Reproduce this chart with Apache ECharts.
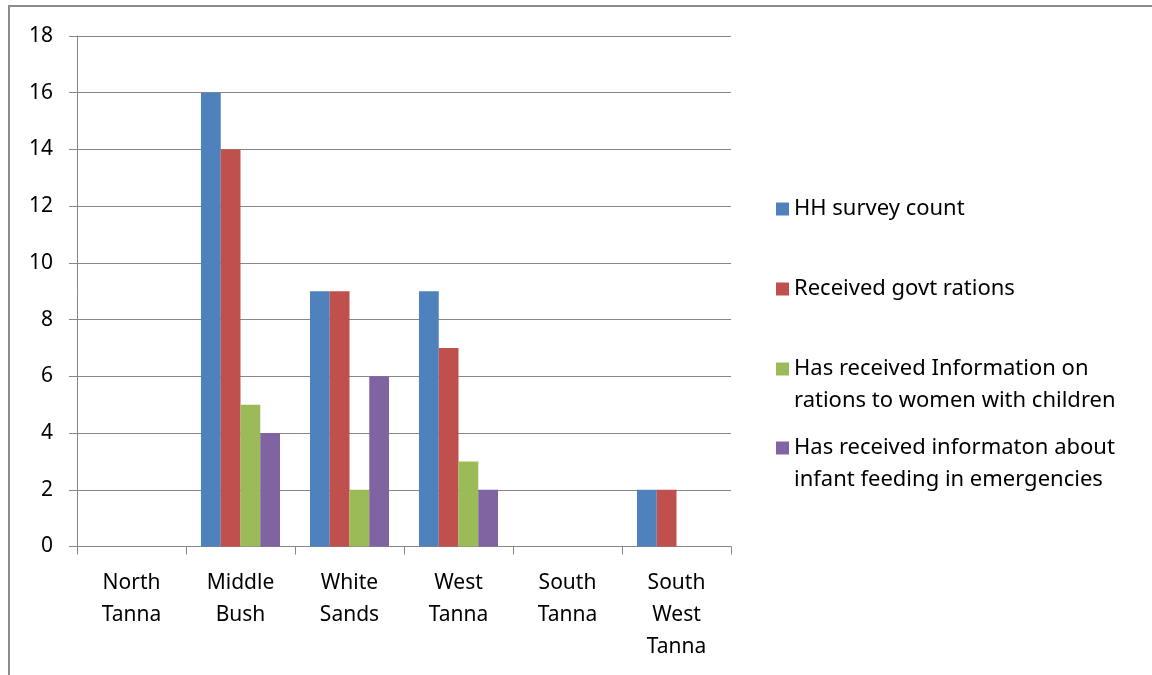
<!DOCTYPE html>
<html>
<head>
<meta charset="utf-8">
<script src="https://cdn.jsdelivr.net/npm/echarts@6/dist/echarts.min.js"></script>
<style>
  html, body { margin: 0; padding: 0; background: #ffffff; }
  #chart { width: 1152px; height: 675px; }
</style>
</head>
<body>
<div id="chart"></div>
<script>
// Area council names along the x axis
const categories = ['North\nTanna', 'Middle\nBush', 'White\nSands', 'West\nTanna', 'South\nTanna', 'South\nWest\nTanna'];

// Series names (legend text)
const seriesNames = [
  'HH survey count',
  'Received govt rations',
  'Has received Information on\nrations to women with children',
  'Has received informaton about\ninfant feeding in emergencies'
];

// Counts per area council
const hhSurveyCount   = [0, 16, 9, 9, 0, 2];
const govtRations     = [0, 14, 9, 7, 0, 2];
const infoRations     = [0, 5, 2, 3, 0, 0];
const infoInfantFeed  = [0, 4, 6, 2, 0, 0];

const seriesValues = [hhSurveyCount, govtRations, infoRations, infoInfantFeed];
const seriesColors = ['#4F81BD', '#C0504D', '#9BBB59', '#8064A2'];

const FONT = 'Noto Sans';
const gridColor = '#878787';

// One legend block per series so each entry sits on its own row.
// Two-line entries get a blank leading line so the swatch lines up with
// the first line of text.
const legendCenters = [207, 287, 367, 446];
const legends = seriesNames.map((name, i) => {
  const multi = name.indexOf('\n') >= 0;
  return {
    orient: 'vertical',
    left: 776,
    top: legendCenters[i] - (multi ? 46 : 14),
    padding: 0,
    itemWidth: 13,
    itemHeight: 13,
    selectedMode: false,
    icon: 'rect',
    data: [name],
    formatter: multi ? (n) => '\u00a0\n' + n : (n) => n,
    textStyle: { fontFamily: FONT, fontSize: 22, color: '#000', lineHeight: 32 }
  };
});

const chart = echarts.init(document.getElementById('chart'), null, { renderer: 'canvas' });

chart.setOption({
  animation: false,
  backgroundColor: '#ffffff',
  graphic: [{
    type: 'rect',
    shape: { x: 9, y: 6, width: 1300, height: 800 },
    style: { fill: 'none', stroke: '#8c8c8c', lineWidth: 2 },
    silent: true,
    z: -10
  }],
  legend: legends,
  grid: { left: 77, right: 421, top: 36, bottom: 128.5, containLabel: false },
  xAxis: {
    type: 'category',
    data: categories,
    axisLine: { show: true, lineStyle: { color: gridColor, width: 1 } },
    axisTick: { show: true, length: 8, lineStyle: { color: gridColor } },
    axisLabel: {
      interval: 0, margin: 21, color: '#000',
      fontFamily: FONT, fontSize: 21, lineHeight: 32
    }
  },
  yAxis: {
    type: 'value',
    min: 0, max: 18, interval: 2,
    axisLine: { show: true, lineStyle: { color: gridColor, width: 1 } },
    axisTick: { show: true, length: 8, lineStyle: { color: gridColor } },
    splitLine: { show: true, lineStyle: { color: gridColor, width: 1 } },
    axisLabel: { margin: 24, color: '#000', fontFamily: FONT, fontSize: 21 }
  },
  series: seriesNames.map((name, i) => ({
    name: name,
    type: 'bar',
    data: seriesValues[i],
    barGap: '0%',
    barCategoryGap: '27.5%',
    itemStyle: { color: seriesColors[i] }
  }))
});
</script>
</body>
</html>
